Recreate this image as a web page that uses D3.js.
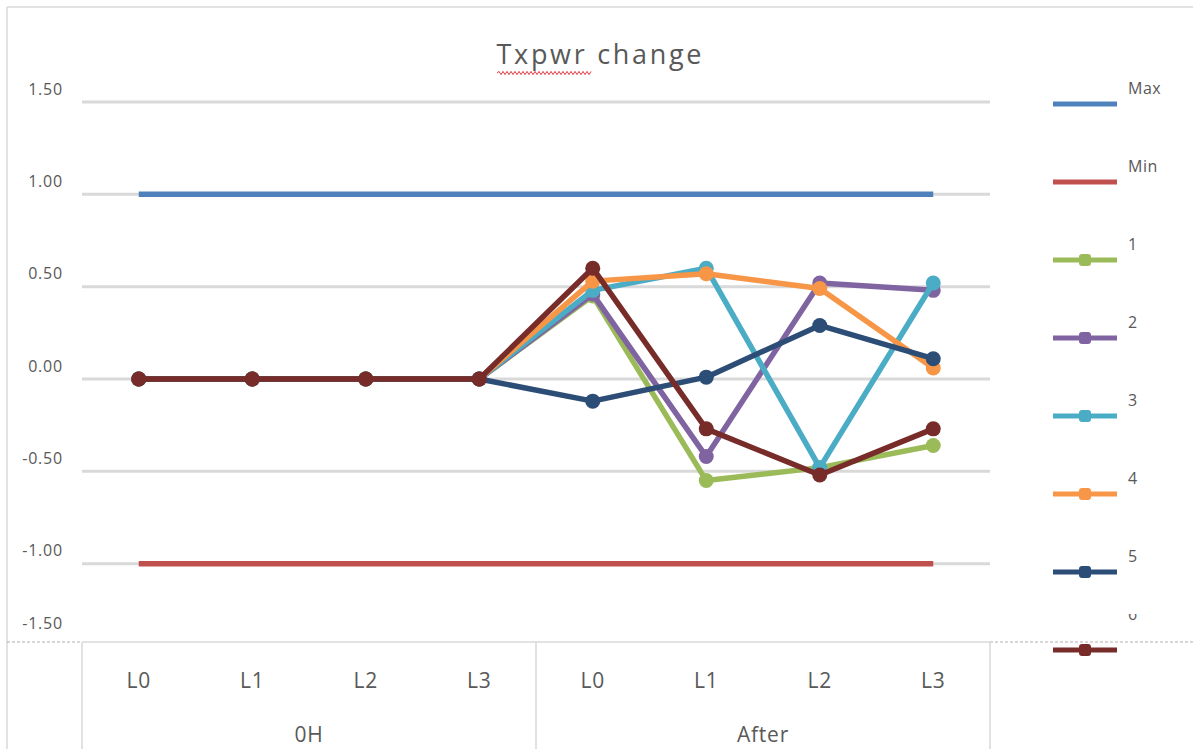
<!DOCTYPE html>
<html>
<head>
<meta charset="utf-8">
<script src="https://cdn.jsdelivr.net/npm/d3@7"></script>
<style>
  html, body { margin: 0; padding: 0; background: #fff; }
  svg { display: block; }
  text { font-family: "Open Sans", "Liberation Sans", sans-serif; fill: #595959; }
</style>
</head>
<body>
<svg id="chart" width="1193" height="749"></svg>
<script>
// Categories: two groups of four levels
const groups = ["0H", "After"];
const levels = ["L0", "L1", "L2", "L3"];

// Series values, one per category (0H L0..L3, After L0..L3)
const maxValues = [1, 1, 1, 1, 1, 1, 1, 1];
const minValues = [-1, -1, -1, -1, -1, -1, -1, -1];
const s1 = [0, 0, 0, 0, 0.45, -0.55, -0.48, -0.36];
const s2 = [0, 0, 0, 0, 0.46, -0.42, 0.52, 0.48];
const s3 = [0, 0, 0, 0, 0.48, 0.60, -0.48, 0.52];
const s4 = [0, 0, 0, 0, 0.53, 0.57, 0.49, 0.06];
const s5 = [0, 0, 0, 0, -0.12, 0.01, 0.29, 0.11];
const s6 = [0, 0, 0, 0, 0.60, -0.27, -0.52, -0.27];

const seriesNames = ["Max", "Min", "1", "2", "3", "4", "5", "6"];
const seriesColors = ["#4F81BD", "#C0504D", "#9BBB59", "#8064A2", "#4BACC6", "#F79646", "#2C4D75", "#772C2A"];
const seriesMarkers = [false, false, true, true, true, true, true, true];
const seriesValues = [maxValues, minValues, s1, s2, s3, s4, s5, s6];

const yTicks = [1.5, 1.0, 0.5, 0, -0.5, -1.0, -1.5];
const title = "Txpwr change";

// ---- layout ----
const svg = d3.select("#chart");
const plotLeft = 82, plotRight = 990, axisTop = 642, bottom = 749;

const keys = [];
groups.forEach(g => levels.forEach(l => keys.push(g + "|" + l)));

const x = d3.scaleBand().domain(keys).range([plotLeft, plotRight]).padding(0);
const cx = k => x(k) + x.bandwidth() / 2;
const y = d3.scaleLinear().domain([-1.5, 1.5]).range([656, 102]);

// outer frame
svg.append("line").attr("x1", 7).attr("x2", 1193).attr("y1", 7).attr("y2", 7)
  .attr("stroke", "#d9d9d9").attr("stroke-width", 1.5);
svg.append("line").attr("x1", 7).attr("x2", 7).attr("y1", 7).attr("y2", bottom)
  .attr("stroke", "#d9d9d9").attr("stroke-width", 1.5);

// title with spell-check squiggle under the first word
svg.append("text").attr("x", 599).attr("y", 64)
  .attr("text-anchor", "middle").attr("font-size", 27)
  .attr("textLength", 205).attr("lengthAdjust", "spacing")
  .text(title);
const squiggle = d3.path();
const sqStart = 497, sqEnd = 590, sqY = 73;
squiggle.moveTo(sqStart, sqY);
for (let px = sqStart, up = true; px < sqEnd; px += 2, up = !up) {
  squiggle.lineTo(px + 2, sqY + (up ? -1.6 : 1.6));
}
svg.append("path").attr("d", squiggle.toString()).attr("fill", "none")
  .attr("stroke", "#e0393e").attr("stroke-width", 1);

// horizontal gridlines
svg.append("g").selectAll("line")
  .data(yTicks.filter(v => v > -1.5))
  .join("line")
  .attr("x1", plotLeft).attr("x2", plotRight)
  .attr("y1", d => y(d)).attr("y2", d => y(d))
  .attr("stroke", "#d9d9d9").attr("stroke-width", 3);

// y tick labels sit just above their gridlines
const fmt = v => v.toFixed(2);
svg.append("g").selectAll("text")
  .data(yTicks)
  .join("text")
  .attr("x", 63)
  .attr("y", d => Math.min(y(d) - 13, axisTop - 19))
  .attr("dy", "0.35em")
  .attr("text-anchor", "end")
  .attr("font-size", 16)
  .attr("letter-spacing", 0.8)
  .text(d => fmt(d));

// category axis band
svg.append("line").attr("x1", plotLeft).attr("x2", plotRight)
  .attr("y1", axisTop).attr("y2", axisTop).attr("stroke", "#d9d9d9").attr("stroke-width", 1.5);
// pane split line (dashed) at the sides
[[7, plotLeft], [plotRight, 1193]].forEach(([a, b]) => {
  svg.append("line").attr("x1", a).attr("x2", b).attr("y1", axisTop).attr("y2", axisTop)
    .attr("stroke", "#b0b0b0").attr("stroke-width", 1).attr("stroke-dasharray", "3,2");
});
// group dividers
const dividers = [x(keys[0]), x(keys[levels.length]), plotRight];
svg.append("g").selectAll("line").data(dividers).join("line")
  .attr("x1", d => d).attr("x2", d => d).attr("y1", axisTop).attr("y2", bottom)
  .attr("stroke", "#d9d9d9").attr("stroke-width", 1.5);

svg.append("g").selectAll("text").data(keys).join("text")
  .attr("x", d => cx(d)).attr("y", 681).attr("dy", "0.35em")
  .attr("text-anchor", "middle").attr("font-size", 21)
  .attr("letter-spacing", 0.8)
  .text(d => d.split("|")[1]);

svg.append("g").selectAll("text").data(groups).join("text")
  .attr("x", g => (x(g + "|" + levels[0]) + x(g + "|" + levels[levels.length - 1]) + x.bandwidth()) / 2)
  .attr("y", 735).attr("dy", "0.35em")
  .attr("text-anchor", "middle").attr("font-size", 21)
  .attr("letter-spacing", 0.8)
  .text(g => g);

// series lines and markers
const line = d3.line().x((d, i) => cx(keys[i])).y(d => y(d));
seriesValues.forEach((vals, si) => {
  const g = svg.append("g");
  g.append("path").datum(vals).attr("d", line)
    .attr("fill", "none").attr("stroke", seriesColors[si])
    .attr("stroke-width", 5.5).attr("stroke-linejoin", "round");
  if (seriesMarkers[si]) {
    g.selectAll("circle").data(vals).join("circle")
      .attr("cx", (d, i) => cx(keys[i])).attr("cy", d => y(d))
      .attr("r", 7.5).attr("fill", seriesColors[si]);
  }
});

// legend
const legendY = d3.scalePoint().domain(seriesNames).range([104, 650]);
const clip = svg.append("defs").append("clipPath").attr("id", "upper-pane");
clip.append("rect").attr("x", 0).attr("y", 614).attr("width", 1193).attr("height", axisTop - 614);

seriesNames.forEach((name, si) => {
  const ly = legendY(name);
  const g = svg.append("g");
  g.append("line").attr("x1", 1053).attr("x2", 1117).attr("y1", ly).attr("y2", ly)
    .attr("stroke", seriesColors[si]).attr("stroke-width", 5);
  if (seriesMarkers[si]) {
    g.append("rect").attr("x", 1079).attr("y", ly - 6).attr("width", 12).attr("height", 12)
      .attr("rx", 3).attr("fill", seriesColors[si]);
  }
  const isLast = si === seriesNames.length - 1;
  const t = g.append("text").attr("x", 1128)
    .attr("y", isLast ? 614 : ly - 16).attr("dy", "0.35em")
    .attr("font-size", 16).attr("letter-spacing", 0.5).text(name);
  if (isLast) t.attr("clip-path", "url(#upper-pane)");
});
</script>
</body>
</html>
